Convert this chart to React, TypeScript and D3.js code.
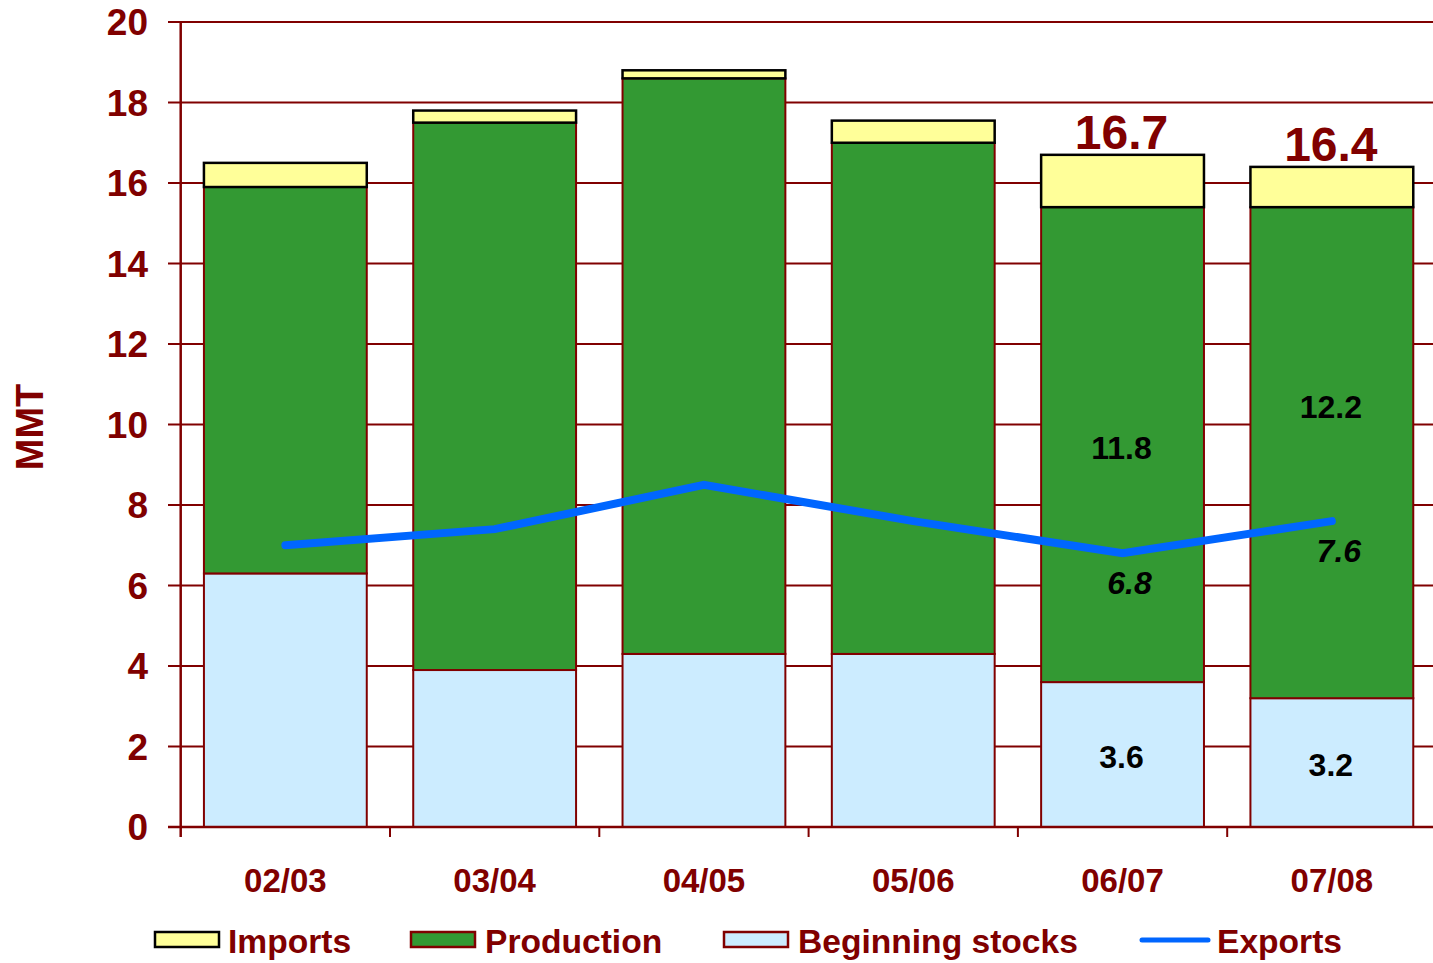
import React from "react";
import * as d3 from "d3";

const categories = ["02/03", "03/04", "04/05", "05/06", "06/07", "07/08"];
const beginningStocks = [6.3, 3.9, 4.3, 4.3, 3.6, 3.2];
const production = [9.6, 13.6, 14.3, 12.7, 11.8, 12.2];
const imports = [0.6, 0.3, 0.2, 0.55, 1.3, 1.0];
const exportsSeries = [7.0, 7.4, 8.5, 7.6, 6.8, 7.6];
const yTicks = [0, 2, 4, 6, 8, 10, 12, 14, 16, 18, 20];

// annotations (shown only for last two years)
const totalLabels = ["", "", "", "", "16.7", "16.4"];
const productionLabels = ["", "", "", "", "11.8", "12.2"];
const productionLabelAt = [0, 0, 0, 0, 9.15, 10.15];
const beginLabels = ["", "", "", "", "3.6", "3.2"];
const exportLabels = ["", "", "", "", "6.8", "7.6"];

const W = 1433;
const H = 963;
const DARK = "#800000";
const FONT = "'Liberation Sans', Arial, sans-serif";

export default function App() {
  const x = d3
    .scaleBand<string>()
    .domain(categories)
    .range([180.7, 180.7 + 6 * 209.3])
    .paddingInner(0.222)
    .paddingOuter(0.111);
  const y = d3.scaleLinear().domain([0, 20]).range([827, 22]);
  const step = x.step();
  const bw = x.bandwidth();
  const cx = (c: string) => (x(c) as number) + bw / 2;

  const line = d3
    .line<number>()
    .x((_, i) => cx(categories[i]))
    .y((d) => y(d));

  const legendItems = [
    { label: "Imports", fill: "#FFFF99", stroke: "#000", sx: 155, tx: 228 },
    { label: "Production", fill: "#339933", stroke: DARK, sx: 411, tx: 485 },
    { label: "Beginning stocks", fill: "#CCECFF", stroke: DARK, sx: 724, tx: 798 },
  ];

  return (
    <svg
      width={W}
      height={H}
      style={{ position: "absolute", left: 0, top: 0, background: "#fff" }}
      fontFamily={FONT}
    >
      {/* gridlines */}
      {yTicks.map((t) =>
        t === 0 ? null : (
          <line key={"g" + t} x1={168} x2={W} y1={y(t)} y2={y(t)} stroke={DARK} strokeWidth={2} />
        )
      )}
      {/* y tick labels */}
      {yTicks.map((t) => (
        <text
          key={"yl" + t}
          x={148}
          y={y(t)}
          dy="0.36em"
          textAnchor="end"
          fontSize={37}
          fontWeight="bold"
          fill={DARK}
        >
          {t}
        </text>
      ))}
      {/* y axis title */}
      <text
        transform={`translate(43, 427) rotate(-90)`}
        textAnchor="middle"
        fontSize={38}
        fontWeight="bold"
        fill={DARK}
      >
        MMT
      </text>

      {/* bars */}
      {categories.map((c, i) => {
        const x0 = x(c) as number;
        const b = beginningStocks[i];
        const p = production[i];
        const im = imports[i];
        return (
          <g key={"bar" + c}>
            <rect x={x0} y={y(b)} width={bw} height={y(0) - y(b)} fill="#CCECFF" stroke={DARK} strokeWidth={2} />
            <rect x={x0} y={y(b + p)} width={bw} height={y(b) - y(b + p)} fill="#339933" stroke={DARK} strokeWidth={2} />
            <rect
              x={x0}
              y={y(b + p + im)}
              width={bw}
              height={y(b + p) - y(b + p + im)}
              fill="#FFFF99"
              stroke="#000"
              strokeWidth={2.5}
            />
          </g>
        );
      })}

      {/* axes */}
      <line x1={180.7} x2={180.7} y1={22} y2={837} stroke={DARK} strokeWidth={2.5} />
      <line x1={168} x2={W} y1={y(0)} y2={y(0)} stroke={DARK} strokeWidth={2.5} />
      {categories.map((c, i) => (
        <line
          key={"xt" + c}
          x1={(x(c) as number) - (step - bw) / 2}
          x2={(x(c) as number) - (step - bw) / 2}
          y1={827}
          y2={837}
          stroke={DARK}
          strokeWidth={2}
          style={{ display: i === 0 ? "none" : "inline" }}
        />
      ))}
      {categories.map((c) => (
        <text
          key={"xl" + c}
          x={cx(c)}
          y={892}
          textAnchor="middle"
          fontSize={33}
          fontWeight="bold"
          fill={DARK}
        >
          {c}
        </text>
      ))}

      {/* exports line */}
      <path
        d={line(exportsSeries) || ""}
        fill="none"
        stroke="#0066FF"
        strokeWidth={8}
        strokeLinecap="round"
        strokeLinejoin="miter"
      />

      {/* annotations */}
      {categories.map((c, i) => {
        const total = beginningStocks[i] + production[i] + imports[i];
        return (
          <g key={"ann" + c}>
            {totalLabels[i] && (
              <text x={cx(c) - 1} y={y(total) - 6} textAnchor="middle" fontSize={48} fontWeight="bold" fill={DARK}>
                {totalLabels[i]}
              </text>
            )}
            {productionLabels[i] && (
              <text x={cx(c) - 1} y={y(productionLabelAt[i])} textAnchor="middle" fontSize={32} fontWeight="bold" fill="#000">
                {productionLabels[i]}
              </text>
            )}
            {beginLabels[i] && (
              <text
                x={cx(c) - 1}
                y={y(beginningStocks[i] / 2)}
                dy="0.42em"
                textAnchor="middle"
                fontSize={32}
                fontWeight="bold"
                fill="#000"
              >
                {beginLabels[i]}
              </text>
            )}
            {exportLabels[i] && (
              <text
                x={cx(c) + 7}
                y={y(exportsSeries[i]) + 41}
                textAnchor="middle"
                fontSize={32}
                fontWeight="bold"
                fontStyle="italic"
                fill="#000"
              >
                {exportLabels[i]}
              </text>
            )}
          </g>
        );
      })}

      {/* legend */}
      {legendItems.map((it) => (
        <g key={"lg" + it.label}>
          <rect x={it.sx} y={932} width={64} height={15} fill={it.fill} stroke={it.stroke} strokeWidth={2.5} />
          <text x={it.tx} y={953} fontSize={33.6} fontWeight="bold" fill={DARK}>
            {it.label}
          </text>
        </g>
      ))}
      <line x1={1142} x2={1208} y1={940} y2={940} stroke="#0066FF" strokeWidth={5} strokeLinecap="round" />
      <text x={1217} y={953} fontSize={33.6} fontWeight="bold" fill={DARK}>
        Exports
      </text>
    </svg>
  );
}
